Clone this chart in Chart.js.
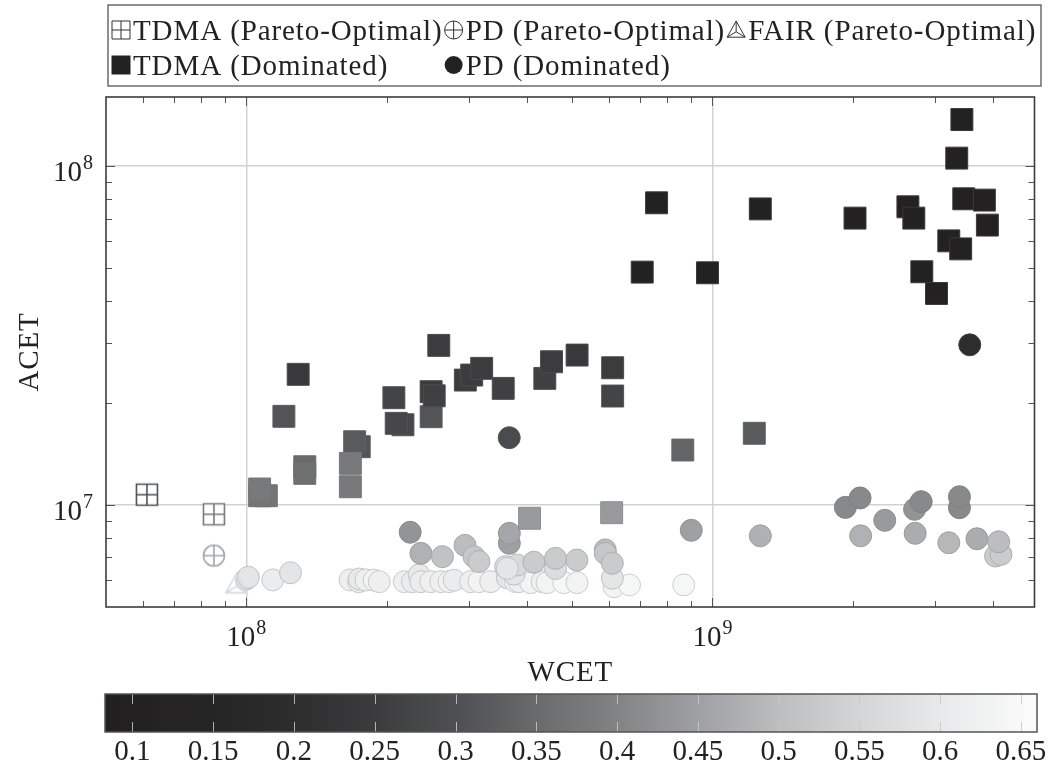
<!DOCTYPE html>
<html>
<head>
<meta charset="utf-8">
<script src="https://cdn.jsdelivr.net/npm/chart.js@4.4.1/dist/chart.umd.min.js"></script>
<style>
  html, body { margin: 0; padding: 0; background: #fff; overflow: hidden; }
  #wrap { position: relative; width: 1051px; height: 766px; overflow: hidden; }
  #main { position: absolute; left: 0; top: 0; }
  #bar { position: absolute; left: 0; top: 688px; }
</style>
</head>
<body>
<div id="wrap">
  <canvas id="main" width="1051" height="690"></canvas>
  <canvas id="bar" width="1051" height="82"></canvas>
</div>
<script>
// TDMA, Pareto-optimal
const tdmaOptWcet = [6.12e7, 8.52e7];
const tdmaOptAcet = [1.073e7, 9.39e6];
const tdmaOptShade = [0.30, 0.38];

// PD, Pareto-optimal
const pdOptWcet = [8.52e7];
const pdOptAcet = [7.09e6];
const pdOptShade = [0.46];

// FAIR, Pareto-optimal
const fairOptWcet = [9.52e7];
const fairOptAcet = [5.83e6];
const fairOptShade = [0.56];

// TDMA, dominated
const tdmaDomWcet = [1.292e8, 1.204e8, 1.335e8, 1.335e8, 1.068e8, 1.104e8, 1.068e8, 1.747e8, 1.708e8, 1.672e8,
  1.672e8, 2.073e8, 2.168e8, 2.097e8, 2.492e8, 2.492e8, 2.53e8, 2.588e8, 2.951e8, 3.045e8,
  3.199e8, 3.558e8, 4.37e8, 4.517e8, 5.125e8, 6.11e8, 6.11e8, 7.59e8, 7.07e8, 9.76e8,
  8.64e8, 1.23e9, 4.053e8, 6.08e8, 3.43e9, 3.344e9, 1.267e9, 2.023e9, 2.627e9, 2.705e9,
  3.462e9, 3.833e9, 3.89e9, 3.215e9, 3.41e9, 2.814e9, 3.026e9];
const tdmaDomAcet = [2.43e7, 1.827e7, 1.297e7, 1.24e7, 1.065e7, 1.065e7, 1.115e7, 1.486e7, 1.537e7, 1.327e7,
  1.132e7, 2.073e7, 1.725e7, 1.742e7, 1.822e7, 2.16e7, 2.1e7, 2.958e7, 2.337e7, 2.418e7,
  2.531e7, 2.209e7, 2.364e7, 2.647e7, 2.77e7, 2.541e7, 2.097e7, 7.795e7, 4.867e7, 4.845e7,
  1.453e7, 1.628e7, 9.14e6, 9.49e6, 1.373e8, 1.056e8, 7.48e7, 7.025e7, 7.586e7, 7.025e7,
  8.01e7, 7.94e7, 6.7e7, 6.02e7, 5.7e7, 4.878e7, 4.211e7];
const tdmaDomShade = [0.24, 0.31, 0.35, 0.36, 0.37, 0.37, 0.38, 0.31, 0.32, 0.38,
  0.38, 0.27, 0.28, 0.28, 0.31, 0.25, 0.26, 0.25, 0.25, 0.25,
  0.25, 0.26, 0.26, 0.25, 0.24, 0.25, 0.27, 0.10, 0.10, 0.10,
  0.34, 0.32, 0.44, 0.44, 0.10, 0.10, 0.10, 0.10, 0.10, 0.10,
  0.10, 0.10, 0.10, 0.10, 0.10, 0.10, 0.10];

// PD, dominated
const pdDomWcet = [1.00e8, 1.01e8, 1.14e8, 1.244e8, 1.67e8, 1.742e8, 1.747e8, 1.806e8, 1.881e8, 1.929e8,
  2.183e8, 2.273e8, 2.349e8, 2.369e8, 2.488e8, 2.614e8, 2.723e8, 2.791e8, 3.03e8, 3.156e8,
  3.344e8, 3.63e8, 3.782e8, 3.845e8, 4.073e8, 4.313e8, 4.42e8, 4.8e8, 5.124e8, 6.15e8,
  6.64e8, 8.68e8, 3.6e8, 3.752e8, 3.812e8, 4.607e8, 6.1e8, 3.63e8, 2.369e8, 2.635e8,
  2.946e8, 3.08e8, 3.156e8, 4.14e8, 4.607e8, 5.12e8, 5.89e8, 5.89e8, 6.1e8, 3.667e8,
  3.667e8, 2.247e8, 9.01e8, 1.267e9, 2.08e9, 2.723e9, 3.215e9, 3.695e9, 4.05e9, 4.16e9,
  4.113e9, 2.343e9, 1.929e9, 2.074e9, 2.715e9, 2.805e9, 3.389e9, 3.389e9, 3.665e8, 3.566e9];
const pdDomAcet = [6.05e6, 6.12e6, 6.01e6, 6.31e6, 6.01e6, 5.94e6, 6.05e6, 6.01e6, 6.0e6, 5.94e6,
  5.94e6, 5.94e6, 6.22e6, 5.94e6, 5.94e6, 5.94e6, 5.94e6, 6.0e6, 5.94e6, 5.94e6,
  5.94e6, 6.1e6, 5.94e6, 5.94e6, 5.9e6, 5.94e6, 5.9e6, 5.9e6, 5.9e6, 5.74e6,
  5.81e6, 5.81e6, 6.58e6, 6.25e6, 6.65e6, 6.5e6, 6.08e6, 6.5e6, 7.2e6, 7.04e6,
  7.6e6, 7.04e6, 6.81e6, 6.78e6, 6.96e6, 6.88e6, 7.37e6, 7.2e6, 6.73e6, 7.71e6,
  8.25e6, 8.31e6, 8.42e6, 8.11e6, 8.11e6, 8.25e6, 7.74e6, 7.95e6, 7.07e6, 7.15e6,
  7.79e6, 9.01e6, 9.84e6, 1.049e7, 9.71e6, 1.023e7, 9.82e6, 1.058e7, 1.58e7, 2.97e7];
const pdDomShade = [0.58, 0.59, 0.61, 0.59, 0.62, 0.61, 0.60, 0.62, 0.63, 0.62,
  0.62, 0.61, 0.60, 0.61, 0.62, 0.62, 0.63, 0.61, 0.62, 0.63,
  0.62, 0.59, 0.63, 0.62, 0.63, 0.62, 0.63, 0.64, 0.63, 0.63,
  0.64, 0.64, 0.57, 0.59, 0.56, 0.57, 0.59, 0.59, 0.48, 0.51,
  0.50, 0.52, 0.53, 0.53, 0.53, 0.53, 0.50, 0.52, 0.53, 0.45,
  0.46, 0.43, 0.45, 0.48, 0.48, 0.47, 0.49, 0.47, 0.53, 0.53,
  0.50, 0.44, 0.41, 0.41, 0.43, 0.41, 0.41, 0.41, 0.29, 0.20];

// axis ticks
const wcetTicks = [6e7, 7e7, 8e7, 9e7, 1e8, 2e8, 3e8, 4e8, 5e8, 6e8, 7e8, 8e8, 9e8, 1e9, 2e9, 3e9, 4e9];
const acetTicks = [6e6, 7e6, 8e6, 9e6, 1e7, 2e7, 3e7, 4e7, 5e7, 6e7, 7e7, 8e7, 9e7, 1e8];
const shadeTicks = [0.1, 0.15, 0.2, 0.25, 0.3, 0.35, 0.4, 0.45, 0.5, 0.55, 0.6, 0.65];

// colormap (value -> gray)
const shadeStops = [[0.083, [35, 31, 32]], [0.15, [38, 37, 38]], [0.2, [45, 45, 46]], [0.25, [60, 60, 62]],
  [0.3, [78, 79, 82]], [0.35, [105, 106, 108]], [0.4, [130, 131, 133]], [0.45, [158, 160, 163]],
  [0.5, [188, 189, 191]], [0.55, [212, 213, 215]], [0.6, [232, 233, 234]], [0.66, [252, 252, 252]]];

const serif = "'Liberation Serif', 'DejaVu Serif', serif";

function shadeRgb(v) {
  if (v <= shadeStops[0][0]) return shadeStops[0][1];
  for (let i = 1; i < shadeStops.length; i++) {
    const [v1, c1] = shadeStops[i];
    if (v <= v1) {
      const [v0, c0] = shadeStops[i - 1];
      const t = (v - v0) / (v1 - v0);
      return c0.map((c, k) => Math.round(c + (c1[k] - c) * t));
    }
  }
  return shadeStops[shadeStops.length - 1][1];
}
const shadeColor = v => 'rgb(' + shadeRgb(v).join(',') + ')';
const edgeColor = v => 'rgb(' + shadeRgb(v).map(c => Math.round(c + (110 - c) * 0.3)).join(',') + ')';

function toPoints(xs, ys) {
  return xs.map((x, i) => ({ x: x, y: ys[i] }));
}

// small symbol painters, used for markers and legend
function paintShape(ctx, shape, cx, cy, s, color, lw) {
  ctx.save();
  ctx.strokeStyle = color;
  ctx.fillStyle = color;
  ctx.lineWidth = lw;
  const h = s / 2;
  ctx.beginPath();
  if (shape === 'squarePlus') {
    ctx.fillStyle = '#fff';
    ctx.rect(cx - h, cy - h, s, s);
    ctx.fill();
    ctx.moveTo(cx, cy - h); ctx.lineTo(cx, cy + h);
    ctx.moveTo(cx - h, cy); ctx.lineTo(cx + h, cy);
    ctx.stroke();
  } else if (shape === 'circlePlus') {
    ctx.fillStyle = '#fff';
    ctx.arc(cx, cy, h, 0, Math.PI * 2);
    ctx.fill();
    ctx.moveTo(cx, cy - h); ctx.lineTo(cx, cy + h);
    ctx.moveTo(cx - h, cy); ctx.lineTo(cx + h, cy);
    ctx.stroke();
  } else if (shape === 'triangle') {
    const top = [cx, cy - h], bl = [cx - h, cy + h * 0.8], br = [cx + h, cy + h * 0.8];
    const gx = cx, gy = (top[1] + bl[1] + br[1]) / 3;
    ctx.moveTo(top[0], top[1]); ctx.lineTo(bl[0], bl[1]); ctx.lineTo(br[0], br[1]); ctx.closePath();
    ctx.moveTo(top[0], top[1]); ctx.lineTo(gx, gy);
    ctx.moveTo(bl[0], bl[1]); ctx.lineTo(gx, gy);
    ctx.moveTo(br[0], br[1]); ctx.lineTo(gx, gy);
    ctx.stroke();
  } else if (shape === 'square') {
    ctx.rect(cx - h, cy - h, s, s);
    ctx.fill();
  } else if (shape === 'circle') {
    ctx.arc(cx, cy, h, 0, Math.PI * 2);
    ctx.fill();
  }
  ctx.restore();
}

function markerImage(shape, v) {
  const c = document.createElement('canvas');
  c.width = 28; c.height = 28;
  paintShape(c.getContext('2d'), shape, 14, 14, 21, shadeColor(v), 1.6);
  return c;
}

const isDecade = v => Math.abs(Math.log10(v) - Math.round(Math.log10(v))) < 1e-9;

function powerLabel(ctx, exp, x, y, align) {
  ctx.font = '29px ' + serif;
  const wb = ctx.measureText('10').width;
  ctx.font = '20px ' + serif;
  const we = ctx.measureText(exp).width;
  const total = wb + 1 + we;
  const left = align === 'right' ? x - total : x - total / 2;
  ctx.textAlign = 'left';
  ctx.textBaseline = 'alphabetic';
  ctx.font = '29px ' + serif;
  ctx.fillText('10', left, y);
  ctx.font = '20px ' + serif;
  ctx.fillText(exp, left + wb + 1, y - 12);
}

const framePlugin = {
  id: 'frame',
  afterDatasetsDraw(chart) {
    const { ctx, chartArea: a, scales: { x, y } } = chart;
    ctx.save();
    ctx.strokeStyle = '#555';
    ctx.lineWidth = 1;
    ctx.beginPath();
    wcetTicks.forEach(v => {
      const px = Math.round(x.getPixelForValue(v)) + 0.5;
      const len = isDecade(v) ? 9 : 6;
      ctx.moveTo(px, a.bottom); ctx.lineTo(px, a.bottom - len);
      ctx.moveTo(px, a.top); ctx.lineTo(px, a.top + len);
    });
    acetTicks.forEach(v => {
      const py = Math.round(y.getPixelForValue(v)) + 0.5;
      const len = isDecade(v) ? 9 : 6;
      ctx.moveTo(a.left, py); ctx.lineTo(a.left + len, py);
      ctx.moveTo(a.right, py); ctx.lineTo(a.right - len, py);
    });
    ctx.stroke();
    ctx.strokeStyle = '#3c3c3c';
    ctx.lineWidth = 1.6;
    ctx.strokeRect(a.left, a.top, a.right - a.left, a.bottom - a.top);

    // tick labels
    ctx.fillStyle = '#222';
    wcetTicks.filter(isDecade).forEach(v => {
      powerLabel(ctx, String(Math.round(Math.log10(v))), x.getPixelForValue(v), a.bottom + 39, 'center');
    });
    acetTicks.filter(isDecade).forEach(v => {
      powerLabel(ctx, String(Math.round(Math.log10(v))), a.left - 13, y.getPixelForValue(v) + 15, 'right');
    });

    // axis titles
    ctx.font = '29px ' + serif;
    ctx.letterSpacing = '0.8px';
    ctx.textAlign = 'center';
    ctx.textBaseline = 'middle';
    ctx.fillText('WCET', (a.left + a.right) / 2, a.bottom + 66);
    ctx.save();
    ctx.translate(30, (a.top + a.bottom) / 2);
    ctx.rotate(-Math.PI / 2);
    ctx.fillText('ACET', 0, 0);
    ctx.restore();
    ctx.restore();
  },
  afterDraw(chart) {
    // legend: three columns, two rows, framed
    const { ctx } = chart;
    const ds = chart.data.datasets;
    const rows = [[0, 1, 2], [3, 4]];
    ctx.save();
    ctx.font = '29px ' + serif;
    ctx.letterSpacing = '0.9px';
    const iconW = 20, gap = 2, colGap = 1;
    const colW = [0, 1, 2].map(c => Math.max(...rows.filter(r => r[c] !== undefined)
      .map(r => ctx.measureText(ds[r[c]].label).width)) + iconW + gap);
    const boxL = 108, boxR = 1041, boxT = 5, boxB = 86;
    ctx.strokeStyle = '#555';
    ctx.lineWidth = 1.3;
    ctx.strokeRect(boxL, boxT, boxR - boxL, boxB - boxT);
    ctx.fillStyle = '#222';
    ctx.textAlign = 'left';
    ctx.textBaseline = 'alphabetic';
    const rowY = [30, 65];
    rows.forEach((r, ri) => {
      let cx = boxL + 3;
      r.forEach((di, ci) => {
        const d = ds[di];
        const dark = d.legendShape === 'square' || d.legendShape === 'circle';
        const size = d.legendShape === 'square' ? 19 : 18;
        paintShape(ctx, d.legendShape, cx + iconW / 2, rowY[ri], size, dark ? '#222' : '#333', 1);
        ctx.fillText(d.label, cx + iconW + gap, rowY[ri] + 10);
        cx += colW[ci] + colGap;
      });
    });
    ctx.restore();
  }
};

const logAxis = (min, max, ticks) => ({
  type: 'logarithmic',
  min: min,
  max: max,
  afterBuildTicks: s => { s.ticks = ticks.map(v => ({ value: v })); },
  grid: {
    color: c => (c.tick && isDecade(c.tick.value)) ? '#d2d2d2' : 'rgba(0,0,0,0)',
    lineWidth: 1.5,
    drawTicks: false
  },
  border: { display: false },
  ticks: { display: false }
});

new Chart(document.getElementById('main'), {
  type: 'scatter',
  data: {
    datasets: [
      {
        label: 'TDMA (Pareto-Optimal)', legendShape: 'squarePlus',
        data: toPoints(tdmaOptWcet, tdmaOptAcet),
        pointStyle: tdmaOptShade.map(v => markerImage('squarePlus', v)),
        pointRadius: 11
      },
      {
        label: 'PD (Pareto-Optimal)', legendShape: 'circlePlus',
        data: toPoints(pdOptWcet, pdOptAcet),
        pointStyle: pdOptShade.map(v => markerImage('circlePlus', v)),
        pointRadius: 11
      },
      {
        label: 'FAIR (Pareto-Optimal)', legendShape: 'triangle',
        data: toPoints(fairOptWcet, fairOptAcet),
        pointStyle: fairOptShade.map(v => markerImage('triangle', v)),
        pointRadius: 11
      },
      {
        label: 'TDMA (Dominated)', legendShape: 'square',
        data: toPoints(tdmaDomWcet, tdmaDomAcet),
        pointStyle: 'rect',
        pointRadius: 15.5,
        pointBackgroundColor: tdmaDomShade.map(shadeColor),
        pointBorderColor: tdmaDomShade.map(edgeColor),
        pointBorderWidth: 1
      },
      {
        label: 'PD (Dominated)', legendShape: 'circle',
        data: toPoints(pdDomWcet, pdDomAcet),
        pointStyle: 'circle',
        pointRadius: 11,
        pointBackgroundColor: pdDomShade.map(shadeColor),
        pointBorderColor: pdDomShade.map(edgeColor),
        pointBorderWidth: 1
      }
    ]
  },
  options: {
    responsive: false,
    animation: false,
    events: [],
    layout: { padding: { left: 106, top: 97, right: 14, bottom: 83 } },
    plugins: { legend: { display: false }, tooltip: { enabled: false } },
    scales: {
      x: logAxis(5e7, 4.91e9, wcetTicks),
      y: logAxis(5e6, 1.6e8, acetTicks)
    }
  },
  plugins: [framePlugin]
});

// colour bar below the plot
const colorbarPlugin = {
  id: 'colorbar',
  beforeDatasetsDraw(chart) {
    const { ctx, chartArea: a, scales: { x } } = chart;
    ctx.save();
    const g = ctx.createLinearGradient(a.left, 0, a.right, 0);
    shadeStops.forEach(([v, c]) => {
      const t = (x.getPixelForValue(v) - a.left) / (a.right - a.left);
      g.addColorStop(Math.min(1, Math.max(0, t)), 'rgb(' + c.join(',') + ')');
    });
    ctx.fillStyle = g;
    ctx.fillRect(a.left, a.top, a.right - a.left, a.bottom - a.top);
    ctx.strokeStyle = 'rgba(200,200,200,0.85)';
    ctx.lineWidth = 1;
    ctx.beginPath();
    shadeTicks.forEach(v => {
      const px = Math.round(x.getPixelForValue(v)) + 0.5;
      ctx.moveTo(px, a.top); ctx.lineTo(px, a.top + 10);
      ctx.moveTo(px, a.bottom); ctx.lineTo(px, a.bottom - 10);
    });
    ctx.stroke();
    ctx.strokeStyle = '#555';
    ctx.lineWidth = 1.5;
    ctx.strokeRect(a.left, a.top, a.right - a.left, a.bottom - a.top);
    ctx.restore();
  }
};

new Chart(document.getElementById('bar'), {
  type: 'scatter',
  data: { datasets: [] },
  options: {
    responsive: false,
    animation: false,
    events: [],
    layout: { padding: { left: 105, right: 14, top: 6, bottom: 0 } },
    plugins: { legend: { display: false }, tooltip: { enabled: false } },
    scales: {
      x: {
        type: 'linear',
        min: 0.083,
        max: 0.66,
        afterBuildTicks: s => { s.ticks = shadeTicks.map(v => ({ value: v })); },
        grid: { display: false, drawTicks: false },
        border: { display: false },
        ticks: {
          padding: 2, maxRotation: 0, autoSkip: false, color: '#222',
          font: { family: serif, size: 29, lineHeight: 1.24 },
          callback: v => String(+Number(v).toFixed(2))
        }
      },
      y: { display: false, min: 0, max: 1 }
    }
  },
  plugins: [colorbarPlugin]
});
</script>
</body>
</html>
